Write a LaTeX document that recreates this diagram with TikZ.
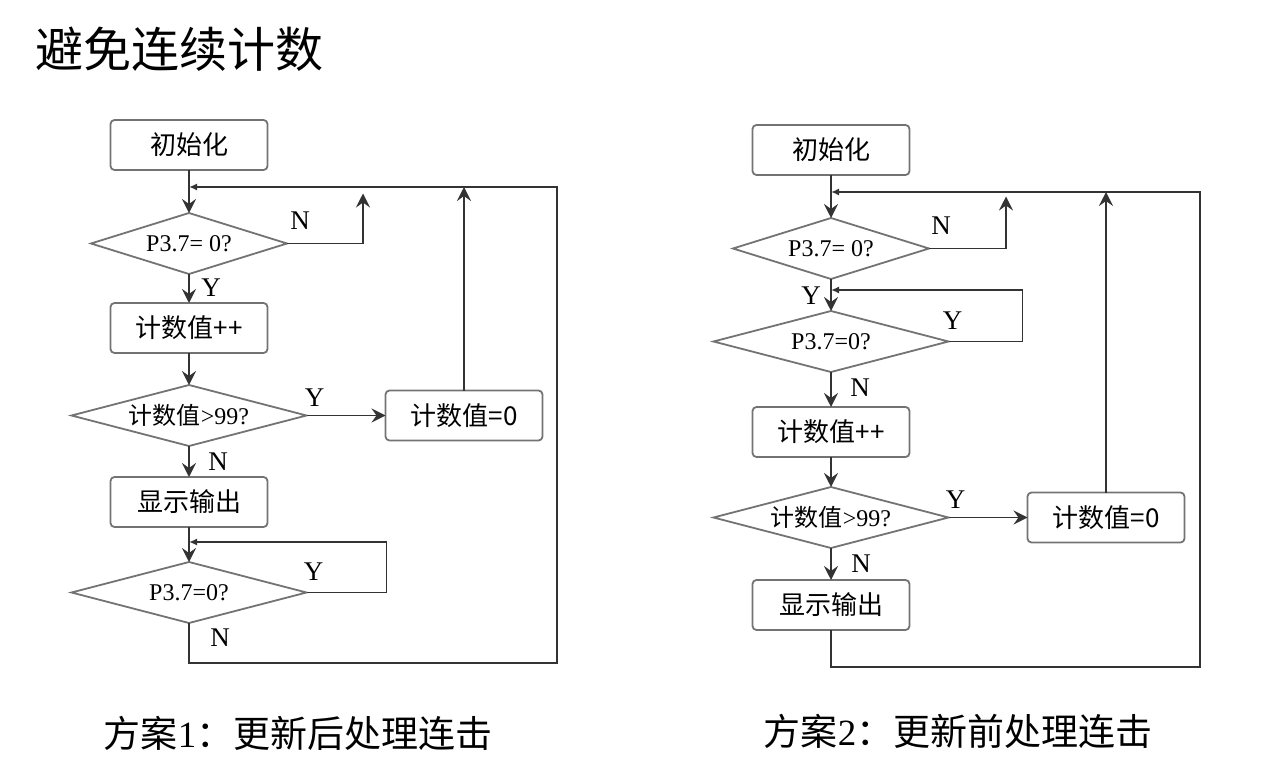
\documentclass[tikz,border=0pt]{standalone}
\usepackage{fontspec}
\setmainfont{Liberation Serif}
\newfontfamily\cjk{Noto Sans CJK SC}
\usetikzlibrary{arrows.meta, shapes.geometric, positioning, calc}

\tikzset{
  box/.style={draw=black!55, line width=1.8pt, rounded corners=4pt,
    minimum width=157pt, minimum height=50pt, inner sep=0pt, outer sep=0pt,
    font=\fontsize{26}{26}\selectfont\cjk},
  test/.style={draw=black!55, line width=1.8pt, diamond, aspect=3.8, inner sep=0pt,
    outer sep=0pt, minimum width=235pt, minimum height=61pt, font=\fontsize{24}{24}\selectfont},
  yn/.style={font=\fontsize{27}{27}\selectfont},
  line/.style={line width=1.8pt, black!80},
  jtip/.style={-{Latex[length=8pt,width=7pt]}},
}

\begin{document}
\begin{tikzpicture}[x=1pt, y=1pt, ->, >={Stealth[length=14pt,width=14pt,inset=5pt]}]
  \useasboundingbox (0,0) rectangle (1264,-778);

  \node (title) at (179,-49) [font=\fontsize{48}{48}\selectfont\cjk] {避免连续计数};

  \node (a1) at (189,-145) [box] {初始化};
  \node (a2) [test, aspect=3.2, minimum width=196pt, below=43pt of a1] {P3.7= 0?};
  \node (a3) [box, below=29pt of a2] {计数值++};
  \node (a4) [test, below=32pt of a3] {{\cjk 计数值}>99?};
  \node (a5) [box, right=79pt of a4] {计数值=0};
  \node (a6) [box, below=31pt of a4] {显示输出};
  \node (a7) [test, below=35pt of a6] {P3.7=0?};
  \coordinate (aj) at ($(a1.south)+(0,-17pt)$);
  \coordinate (ak) at ($(a7.north)+(0,20pt)$);
  \coordinate (ab) at ($(a7.south)+(0,-40pt)$);
  \coordinate (an) at ($(a2.east)+(76pt,50pt)$);

  \node (an1) [yn] at ($(a2.east)+(13pt,23pt)$) {N};
  \node (ay1) [yn] at ($(a2.south)+(22pt,-14pt)$) {Y};
  \node (ay2) [yn] at ($(a4.east)+(8pt,18pt)$) {Y};
  \node (an2) [yn] at ($(a4.south)+(29pt,-16pt)$) {N};
  \node (ay3) [yn] at ($(a7.east)+(7pt,21pt)$) {Y};
  \node (an3) [yn] at ($(a7.south)+(31pt,-15pt)$) {N};

  \draw[line] (a1) -- (a2);
  \draw[line] (a2.east) -| (an);
  \draw[line] (a2) -- (a3);
  \draw[line] (a3) -- (a4);
  \draw[line] (a4) -- (a5);
  \draw[line] (a5) -- (a5 |- aj);
  \draw[line] (a4) -- (a6);
  \draw[line] (a6) -- (a7);
  \draw[line, jtip] (a7.east) -- ++(80pt,0) |- (ak);
  \draw[line, jtip] (a7.south) -- (ab) -- ++(368pt,0) |- (aj);

  \node (b1) at (831,-150) [box] {初始化};
  \node (b2) [test, aspect=3.2, minimum width=196pt, below=43pt of b1] {P3.7= 0?};
  \node (b3) [test, below=32pt of b2] {P3.7=0?};
  \node (b4) [box, below=35pt of b3] {计数值++};
  \node (b5) [test, below=30pt of b4] {{\cjk 计数值}>99?};
  \node (b6) [box, right=79pt of b5] {计数值=0};
  \node (b7) [box, below=32pt of b5] {显示输出};
  \coordinate (bj) at ($(b1.south)+(0,-17pt)$);
  \coordinate (bk) at ($(b3.north)+(0,21pt)$);
  \coordinate (bb) at ($(b7.south)+(0,-37pt)$);
  \coordinate (bn) at ($(b2.east)+(77pt,52pt)$);

  \node (bn1) [yn] at ($(b2.east)+(12pt,23pt)$) {N};
  \node (by1) [yn] at ($(b2.south)+(-20pt,-17pt)$) {Y};
  \node (by2) [yn] at ($(b3.east)+(4pt,21pt)$) {Y};
  \node (bn2) [yn] at ($(b3.south)+(29pt,-16pt)$) {N};
  \node (by3) [yn] at ($(b5.east)+(7pt,18pt)$) {Y};
  \node (bn3) [yn] at ($(b5.south)+(30pt,-16pt)$) {N};

  \draw[line] (b1) -- (b2);
  \draw[line] (b2.east) -| (bn);
  \draw[line] (b2) -- (b3);
  \draw[line, jtip] (b3.east) -- ++(74pt,0) |- (bk);
  \draw[line] (b3) -- (b4);
  \draw[line] (b4) -- (b5);
  \draw[line] (b5) -- (b6);
  \draw[line] (b6) -- (b6 |- bj);
  \draw[line] (b5) -- (b7);
  \draw[line, jtip] (b7.south) -- (bb) -- ++(369pt,0) |- (bj);

  \node (c1) at (298,-733) [font=\fontsize{37}{37}\selectfont] {{\cjk 方案}1{\cjk ：更新后处理连击}};
  \node (c2) at (958,-731) [font=\fontsize{37}{37}\selectfont] {{\cjk 方案}2{\cjk ：更新前处理连击}};
\end{tikzpicture}
\end{document}
